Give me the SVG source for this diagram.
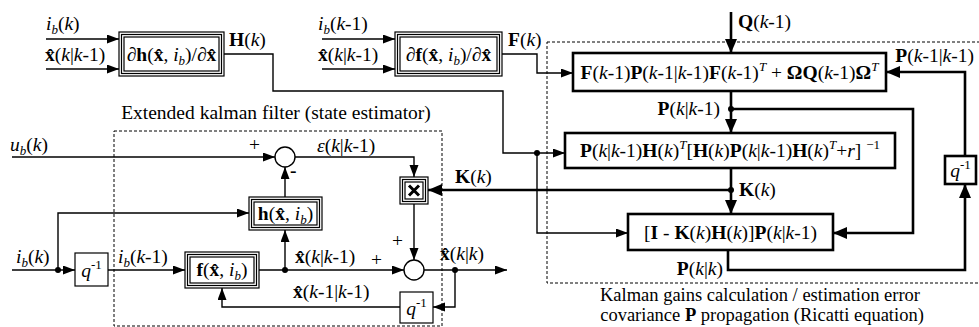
<svg xmlns="http://www.w3.org/2000/svg" width="979" height="327" viewBox="0 0 979 327">
<style>
text{font-family:"Liberation Serif","Times New Roman",serif;font-size:19.5px;fill:#000}
.b{font-weight:bold}
.i{font-style:italic}
.s{font-size:13px}
.m{text-anchor:middle}
.e{text-anchor:end}
.cap{font-size:18.5px}
.ln{fill:none;stroke:#000;stroke-width:1.4}
.tk{fill:none;stroke:#000;stroke-width:2.6}
.bx{fill:#fff;stroke:#000;stroke-width:1.2}
.tb{fill:#fff;stroke:#000;stroke-width:2.6}
.ds{fill:none;stroke:#000;stroke-width:1;stroke-dasharray:3 2}
.dot{fill:#000}
</style>
<defs>
<marker id="a" markerUnits="userSpaceOnUse" markerWidth="13" markerHeight="10" refX="12" refY="4.5" orient="auto"><path d="M0,0L12,4.5L0,9z"/></marker>
<marker id="A" markerUnits="userSpaceOnUse" markerWidth="15" markerHeight="13" refX="14" refY="6" orient="auto"><path d="M0,0L14,6L0,12z"/></marker>
</defs>

<!-- dashed regions -->
<rect class="ds" x="114" y="131" width="328" height="195"/>
<rect class="ds" x="547" y="42" width="450" height="241"/>
<text class="m" x="276" y="119">Extended kalman filter (state estimator)</text>
<text class="m cap" x="760" y="301">Kalman gains calculation / estimation error</text>
<text class="m cap" x="762" y="321">covariance <tspan class="b">P</tspan> propagation (Ricatti equation)</text>

<g id="connectors">
<path class="ln" d="M46 39H119" marker-end="url(#a)"/>
<path class="ln" d="M46 69H119" marker-end="url(#a)"/>
<path class="ln" d="M322 39H395" marker-end="url(#a)"/>
<path class="ln" d="M322 69H395" marker-end="url(#a)"/>
<path class="ln" d="M224 54H273V91H503V153H565" marker-end="url(#a)"/>
<path class="ln" d="M537 153V233H628" marker-end="url(#a)"/>
<path class="ln" d="M502 54H537V73H573" marker-end="url(#a)"/>
<path class="tk" d="M731 12V53" marker-end="url(#A)"/>
<path class="tk" d="M731 91V133" marker-end="url(#A)"/>
<path class="tk" d="M731 109H913V233H833" marker-end="url(#A)"/>
<path class="tk" d="M731 168V214" marker-end="url(#A)"/>
<path class="tk" d="M731 190H428" marker-end="url(#A)"/>
<path class="tk" d="M728 250V270H965V184" marker-end="url(#A)"/>
<path class="tk" d="M965 156V72H886" marker-end="url(#A)"/>
<path class="ln" d="M12 157H275" marker-end="url(#a)"/>
<path class="ln" d="M285 197V167" marker-end="url(#a)"/>
<path class="ln" d="M295 157H414V177" marker-end="url(#a)"/>
<path class="ln" d="M414 204V260" marker-end="url(#a)"/>
<path class="ln" d="M12 270H75" marker-end="url(#a)"/>
<path class="ln" d="M58 270V213H249" marker-end="url(#a)"/>
<path class="ln" d="M108 270H185" marker-end="url(#a)"/>
<path class="ln" d="M259 270H404" marker-end="url(#a)"/>
<path class="ln" d="M285 270V230" marker-end="url(#a)"/>
<path class="ln" d="M424 270H507" marker-end="url(#a)"/>
<path class="ln" d="M455 270V307H433" marker-end="url(#a)"/>
<path class="ln" d="M400 307H222V288" marker-end="url(#a)"/>
<circle class="dot" cx="537" cy="153" r="3"/>
<circle class="dot" cx="731" cy="109" r="3"/>
<circle class="dot" cx="731" cy="190" r="3"/>
<circle class="dot" cx="58" cy="270" r="3"/>
<circle class="dot" cx="285" cy="270" r="3"/>
<circle class="dot" cx="455" cy="270" r="3"/>
</g>

<!-- connector labels -->
<text x="46" y="30"><tspan class="i">i</tspan><tspan class="i s" dy="4">b</tspan><tspan dy="-4">(</tspan><tspan class="i">k</tspan>)</text>
<text x="45" y="61"><tspan class="b">x̂</tspan>(<tspan class="i">k</tspan>|<tspan class="i">k</tspan>-1)</text>
<text x="229" y="46"><tspan class="b">H</tspan>(<tspan class="i">k</tspan>)</text>
<text x="318" y="30"><tspan class="i">i</tspan><tspan class="i s" dy="4">b</tspan><tspan dy="-4">(</tspan><tspan class="i">k</tspan>-1)</text>
<text x="318" y="61"><tspan class="b">x̂</tspan>(<tspan class="i">k</tspan>|<tspan class="i">k</tspan>-1)</text>
<text x="508" y="46"><tspan class="b">F</tspan>(<tspan class="i">k</tspan>)</text>
<text x="738" y="28"><tspan class="b">Q</tspan>(<tspan class="i">k</tspan>-1)</text>
<text x="974" y="62" class="e" font-size="18.5"><tspan class="b">P</tspan>(<tspan class="i">k</tspan>-1|<tspan class="i">k</tspan>-1)</text>
<text class="e" x="720" y="115"><tspan class="b">P</tspan>(<tspan class="i">k</tspan>|<tspan class="i">k</tspan>-1)</text>
<text x="739" y="196"><tspan class="b">K</tspan>(<tspan class="i">k</tspan>)</text>
<text x="455" y="183"><tspan class="b">K</tspan>(<tspan class="i">k</tspan>)</text>
<text class="e" x="723" y="275"><tspan class="b">P</tspan>(<tspan class="i">k</tspan>|<tspan class="i">k</tspan>)</text>
<text x="10" y="151"><tspan class="i">u</tspan><tspan class="i s" dy="4">b</tspan><tspan dy="-4">(</tspan><tspan class="i">k</tspan>)</text>
<text x="249" y="151">+</text>
<text x="290" y="177" class="b">-</text>
<text x="317" y="152"><tspan class="i">ε</tspan>(<tspan class="i">k</tspan>|<tspan class="i">k</tspan>-1)</text>
<text x="392" y="247">+</text>
<text x="16" y="263"><tspan class="i">i</tspan><tspan class="i s" dy="4">b</tspan><tspan dy="-4">(</tspan><tspan class="i">k</tspan>)</text>
<text x="118" y="263"><tspan class="i">i</tspan><tspan class="i s" dy="4">b</tspan><tspan dy="-4">(</tspan><tspan class="i">k</tspan>-1)</text>
<text x="295" y="263"><tspan class="b">x̂</tspan>(<tspan class="i">k</tspan>|<tspan class="i">k</tspan>-1)</text>
<text x="371" y="266">+</text>
<text x="440" y="260"><tspan class="b">x̂</tspan>(<tspan class="i">k</tspan>|<tspan class="i">k</tspan>)</text>
<text x="293" y="298"><tspan class="b">x̂</tspan>(<tspan class="i">k</tspan>-1|<tspan class="i">k</tspan>-1)</text>

<g id="dh">
<rect class="bx" x="119" y="32" width="105" height="44"/>
<rect class="bx" x="121.5" y="34.5" width="100" height="39"/>
<rect class="bx" x="124" y="37" width="95" height="34" stroke-width="1.4"/>
<text class="m" x="171.5" y="61">∂<tspan class="b">h</tspan>(<tspan class="b">x̂</tspan>, <tspan class="i">i</tspan><tspan class="i s" dy="4">b</tspan><tspan dy="-4">)/∂</tspan><tspan class="b">x̂</tspan></text>
</g>
<g id="df">
<rect class="bx" x="395" y="32" width="107" height="44"/>
<rect class="bx" x="397.5" y="34.5" width="102" height="39"/>
<rect class="bx" x="400" y="37" width="97" height="34" stroke-width="1.4"/>
<text class="m" x="448.5" y="61">∂<tspan class="b">f</tspan>(<tspan class="b">x̂</tspan>, <tspan class="i">i</tspan><tspan class="i s" dy="4">b</tspan><tspan dy="-4">)/∂</tspan><tspan class="b">x̂</tspan></text>
</g>
<g id="h">
<rect class="bx" x="249" y="197" width="73" height="33"/>
<rect class="bx" x="251.5" y="199.5" width="68" height="28"/>
<rect class="bx" x="254" y="202" width="63" height="23" stroke-width="1.4"/>
<text class="m" x="285.5" y="220"><tspan class="b">h</tspan>(<tspan class="b">x̂</tspan>, <tspan class="i">i</tspan><tspan class="i s" dy="4">b</tspan><tspan dy="-4">)</tspan></text>
</g>
<g id="f">
<rect class="bx" x="185" y="252" width="74" height="36"/>
<rect class="bx" x="187.5" y="254.5" width="69" height="31"/>
<rect class="bx" x="190" y="257" width="64" height="26" stroke-width="1.4"/>
<text class="m" x="222" y="276"><tspan class="b">f</tspan>(<tspan class="b">x̂</tspan>, <tspan class="i">i</tspan><tspan class="i s" dy="4">b</tspan><tspan dy="-4">)</tspan></text>
</g>
<g id="mul">
<rect class="bx" x="400" y="177" width="28" height="27"/>
<rect class="bx" x="402.5" y="179.5" width="23" height="22"/>
<rect class="bx" x="405" y="182" width="18" height="17" stroke-width="1.4"/>
<path d="M409 185.5L419 195.5M419 185.5L409 195.5" stroke="#000" stroke-width="3"/>
</g>
<g id="sum1"><circle cx="285" cy="157" r="10" fill="#fff" stroke="#000" stroke-width="1.4"/></g>
<g id="sum2"><circle cx="414" cy="270" r="10" fill="#fff" stroke="#000" stroke-width="1.4"/></g>
<g id="q1">
<rect class="bx" x="75" y="253" width="33" height="33" stroke-width="1.4"/>
<text class="m" x="91.5" y="277"><tspan class="i">q</tspan><tspan class="s" dy="-8">-1</tspan></text>
</g>
<g id="q2">
<rect class="bx" x="400" y="292" width="33" height="31" stroke-width="1.4"/>
<text class="m" x="416.5" y="315"><tspan class="i">q</tspan><tspan class="s" dy="-8">-1</tspan></text>
</g>
<g id="q3">
<rect class="tb" x="945" y="156" width="31" height="28"/>
<text class="m" x="960.5" y="177"><tspan class="i">q</tspan><tspan class="s" dy="-8">-1</tspan></text>
</g>
<g id="pred">
<rect class="tb" x="573" y="53" width="313" height="38"/>
<text class="m" x="729.5" y="79"><tspan class="b">F</tspan>(<tspan class="i">k</tspan>-1)<tspan class="b">P</tspan>(<tspan class="i">k</tspan>-1|<tspan class="i">k</tspan>-1)<tspan class="b">F</tspan>(<tspan class="i">k</tspan>-1)<tspan class="i s" dy="-8">T</tspan><tspan dy="8"> + </tspan><tspan class="b">ΩQ</tspan>(<tspan class="i">k</tspan>-1)<tspan class="b">Ω</tspan><tspan class="i s" dy="-8">T</tspan></text>
</g>
<g id="gain">
<rect class="tb" x="565" y="133" width="330" height="35"/>
<text class="m" x="730" y="157"><tspan class="b">P</tspan>(<tspan class="i">k</tspan>|<tspan class="i">k</tspan>-1)<tspan class="b">H</tspan>(<tspan class="i">k</tspan>)<tspan class="i s" dy="-8">T</tspan><tspan dy="8">[</tspan><tspan class="b">H</tspan>(<tspan class="i">k</tspan>)<tspan class="b">P</tspan>(<tspan class="i">k</tspan>|<tspan class="i">k</tspan>-1)<tspan class="b">H</tspan>(<tspan class="i">k</tspan>)<tspan class="i s" dy="-8">T</tspan><tspan dy="8">+</tspan><tspan class="i">r</tspan>] <tspan class="s" dy="-8">−1</tspan></text>
</g>
<g id="update">
<rect class="tb" x="628" y="214" width="205" height="36"/>
<text class="m" x="730.5" y="239">[<tspan class="b">I</tspan> - <tspan class="b">K</tspan>(<tspan class="i">k</tspan>)<tspan class="b">H</tspan>(<tspan class="i">k</tspan>)]<tspan class="b">P</tspan>(<tspan class="i">k</tspan>|<tspan class="i">k</tspan>-1)</text>
</g>
</svg>
